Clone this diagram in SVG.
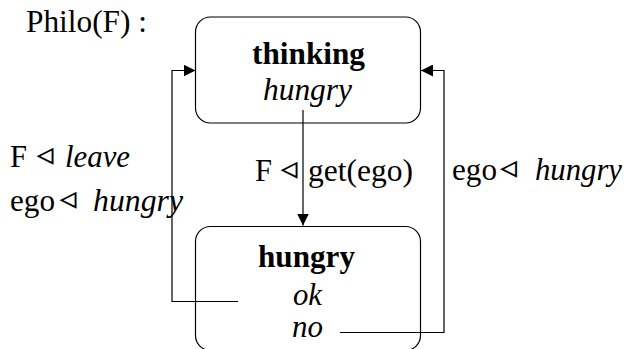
<svg xmlns="http://www.w3.org/2000/svg" width="626" height="349" viewBox="0 0 626 349">
  <defs>
    <marker id="arr" markerUnits="userSpaceOnUse" markerWidth="12" markerHeight="12" viewBox="0 0 10 10" refX="10" refY="5" orient="auto">
      <path d="M0,0 L10,5 L0,10 z" fill="#000"/>
    </marker>
  </defs>
  <style>
    .t { font-family: "Liberation Serif", "Times New Roman", Times, "DejaVu Serif", "Noto Serif", serif; font-size: 31px; fill: #000; }
    .b { font-weight: bold; }
    .i { font-style: italic; }
    .tri { font-family: "DejaVu Sans", sans-serif; font-size: 34px; font-style: normal; font-weight: normal; text-anchor: middle; fill: #000; }
    .box { fill: #fff; stroke: #000; stroke-width: 1.2; }
    .conn { fill: none; stroke: #000; stroke-width: 1.2; }
  </style>

  <text id="title" class="t" x="26" y="32" textLength="121" lengthAdjust="spacingAndGlyphs">Philo(F) :</text>

  <g id="thinking">
    <rect class="box" x="195.5" y="17" width="225" height="106" rx="15" ry="15"/>
    <text class="t b" x="252" y="64" textLength="113" lengthAdjust="spacingAndGlyphs">thinking</text>
    <text class="t i" x="263" y="100" textLength="89" lengthAdjust="spacingAndGlyphs">hungry</text>
  </g>

  <g id="hungry">
    <rect class="box" x="195.5" y="226.5" width="225" height="124" rx="15" ry="15"/>
    <text class="t b" x="258" y="267" textLength="97" lengthAdjust="spacingAndGlyphs">hungry</text>
    <text class="t i" x="293" y="305" textLength="29" lengthAdjust="spacingAndGlyphs">ok</text>
    <text class="t i" x="292" y="337" textLength="31" lengthAdjust="spacingAndGlyphs">no</text>
  </g>

  <g id="connectors">
    <path class="conn" d="M303,110 V225.5" marker-end="url(#arr)"/>
    <path class="conn" d="M238,301.5 H172 V70.5 H195.5" marker-end="url(#arr)"/>
    <path class="conn" d="M340,332.5 H444 V70.5 H421" marker-end="url(#arr)"/>
  </g>

  <g id="labels">
    <text class="t" x="10" y="167" textLength="17" lengthAdjust="spacingAndGlyphs">F</text>
    <text class="tri" x="45" y="165">◃</text>
    <text class="t i" x="65" y="167" textLength="65" lengthAdjust="spacingAndGlyphs">leave</text>

    <text class="t" x="10" y="211" textLength="45" lengthAdjust="spacingAndGlyphs">ego</text>
    <text class="tri" x="68" y="209">◃</text>
    <text class="t i" x="93" y="211" textLength="90" lengthAdjust="spacingAndGlyphs">hungry</text>

    <text class="t" x="255" y="181" textLength="17" lengthAdjust="spacingAndGlyphs">F</text>
    <text class="tri" x="289" y="179">◃</text>
    <text class="t" x="308" y="181" textLength="105" lengthAdjust="spacingAndGlyphs">get(ego)</text>

    <text class="t" x="452" y="180" textLength="45" lengthAdjust="spacingAndGlyphs">ego</text>
    <text class="tri" x="508.5" y="178">◃</text>
    <text class="t i" x="535" y="180" textLength="87" lengthAdjust="spacingAndGlyphs">hungry</text>
  </g>
</svg>
